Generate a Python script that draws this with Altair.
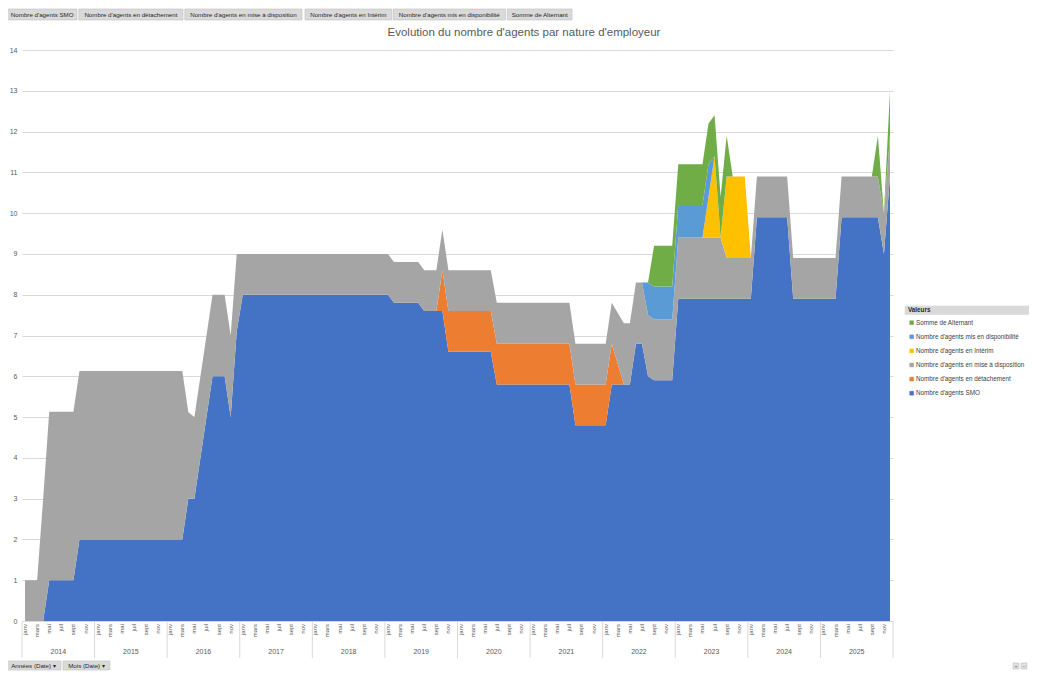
import altair as alt
import pandas as pd

FONT = "Liberation Sans"
TXT = "#595959"

# ---------------- data ----------------
months_fr = ["janv", "févr", "mars", "avr", "mai", "juin", "juil", "août", "sept", "oct", "nov", "déc"]
years = [2014, 2015, 2016, 2017, 2018, 2019, 2020, 2021, 2022, 2023, 2024, 2025]

series_names = [
    "Nombre d'agents SMO",
    "Nombre d'agents en détachement",
    "Nombre d'agents en mise à disposition",
    "Nombre d'agents en Intérim",
    "Nombre d'agents mis en disponibilité",
    "Somme de Alternant",
]
series_colors = ["#4472C4", "#ED7D31", "#A5A5A5", "#FFC000", "#5B9BD5", "#70AD47"]

smo = [
    0, 0, 0, 0, 1, 1, 1, 1, 1, 2, 2, 2,                      # 2014
    2, 2, 2, 2, 2, 2, 2, 2, 2, 2, 2, 2,                      # 2015
    2, 2, 2, 3, 3, 4, 5, 6, 6, 6, 5, 7.1,                    # 2016
    8, 8, 8, 8, 8, 8, 8, 8, 8, 8, 8, 8,                      # 2017
    8, 8, 8, 8, 8, 8, 8, 8, 8, 8, 8, 8,                      # 2018
    8, 7.8, 7.8, 7.8, 7.8, 7.8, 7.6, 7.6, 7.6, 7.6, 6.6, 6.6,  # 2019
    6.6, 6.6, 6.6, 6.6, 6.6, 6.6, 5.8, 5.8, 5.8, 5.8, 5.8, 5.8,  # 2020
    5.8, 5.8, 5.8, 5.8, 5.8, 5.8, 5.8, 4.8, 4.8, 4.8, 4.8, 4.8,  # 2021
    4.8, 5.8, 5.8, 5.8, 5.8, 6.8, 6.8, 6.0, 5.9, 5.9, 5.9, 5.9,  # 2022
    7.9, 7.9, 7.9, 7.9, 7.9, 7.9, 7.9, 7.9, 7.9, 7.9, 7.9, 7.9,  # 2023
    7.9, 9.9, 9.9, 9.9, 9.9, 9.9, 9.9, 7.9, 7.9, 7.9, 7.9, 7.9,  # 2024
    7.9, 7.9, 7.9, 9.9, 9.9, 9.9, 9.9, 9.9, 9.9, 9.9, 9.0, 10.9,  # 2025
]
detachement = [
    0, 0, 0, 0, 0, 0, 0, 0, 0, 0, 0, 0,
    0, 0, 0, 0, 0, 0, 0, 0, 0, 0, 0, 0,
    0, 0, 0, 0, 0, 0, 0, 0, 0, 0, 0, 0,
    0, 0, 0, 0, 0, 0, 0, 0, 0, 0, 0, 0,
    0, 0, 0, 0, 0, 0, 0, 0, 0, 0, 0, 0,
    0, 0, 0, 0, 0, 0, 0, 0, 0, 1, 1, 1,                      # 2019
    1, 1, 1, 1, 1, 1, 1, 1, 1, 1, 1, 1,                      # 2020
    1, 1, 1, 1, 1, 1, 1, 1, 1, 1, 1, 1,                      # 2021
    1, 1, 0.5, 0, 0, 0, 0, 0, 0, 0, 0, 0,                    # 2022
    0, 0, 0, 0, 0, 0, 0, 0, 0, 0, 0, 0,
    0, 0, 0, 0, 0, 0, 0, 0, 0, 0, 0, 0,
    0, 0, 0, 0, 0, 0, 0, 0, 0, 0, 0, 0,
]
mise_dispo = [
    1, 1, 1, 3, 4.13, 4.13, 4.13, 4.13, 4.13, 4.13, 4.13, 4.13,  # 2014
    4.13, 4.13, 4.13, 4.13, 4.13, 4.13, 4.13, 4.13, 4.13, 4.13, 4.13, 4.13,  # 2015
    4.13, 4.13, 4.13, 2.12, 2, 2, 2, 2, 2, 2, 2, 1.9,        # 2016
    1, 1, 1, 1, 1, 1, 1, 1, 1, 1, 1, 1,                      # 2017
    1, 1, 1, 1, 1, 1, 1, 1, 1, 1, 1, 1,                      # 2018
    1, 1, 1, 1, 1, 1, 1, 1, 1, 1, 1, 1,                      # 2019
    1, 1, 1, 1, 1, 1, 1, 1, 1, 1, 1, 1,                      # 2020
    1, 1, 1, 1, 1, 1, 1, 1, 1, 1, 1, 1,                      # 2021
    1, 1, 1.25, 1.5, 1.5, 1.5, 1.5, 1.5, 1.5, 1.5, 1.5, 1.5,  # 2022
    1.5, 1.5, 1.5, 1.5, 1.5, 1.5, 1.5, 1.5, 1, 1, 1, 1,      # 2023
    1, 1, 1, 1, 1, 1, 1, 1, 1, 1, 1, 1,                      # 2024
    1, 1, 1, 1, 1, 1, 1, 1, 1, 1, 1, 1,                      # 2025
]
interim = [0] * 108 + [0, 0, 0, 0, 0, 1, 2, 0, 2, 2, 2, 2] + [0] * 24
mis_dispo = ([0] * 96 + [0, 0, 0, 0, 0, 0, 0, 0.8, 0.8, 0.8, 0.8, 0.8]
             + [0.8, 0.8, 0.8, 0.8, 0.8, 0.8, 0, 0, 0, 0, 0, 0] + [0] * 24)
alternant = ([0] * 96 + [0, 0, 0, 0, 0, 0, 0, 0, 1, 1, 1, 1]
             + [1, 1, 1, 1, 1, 1, 1, 1, 1, 0, 0, 0] + [0] * 12
             + [0, 0, 0, 0, 0, 0, 0, 0, 0, 1, 0, 1.1])

title_text = "Evolution du nombre d'agents par nature d'employeur"
legend_title = "Valeurs"
field_buttons = series_names
axis_buttons = ["Années (Date) ▾", "Mois (Date) ▾"]

# ---------------- tables ----------------
all_series = [smo, detachement, mise_dispo, interim, mis_dispo, alternant]
rows = []
for k, (name, vals) in enumerate(zip(series_names, all_series)):
    for i, v in enumerate(vals):
        rows.append({"idx": i, "val": v, "series": name, "ord": k})
df = pd.DataFrame(rows)

mdf = pd.DataFrame({"idx": list(range(0, 144, 2)),
                    "lab": [months_fr[i % 12] for i in range(0, 144, 2)]})
ydf = pd.DataFrame({"c": [12 * k + 5.5 for k in range(len(years))],
                    "lab": [str(y) for y in years]})
bdf = pd.DataFrame({"b": [12 * k - 0.5 for k in range(len(years) + 1)]})

LEFT = 14
W, H = 871, 571
BOTTOM = 50
xscale = alt.Scale(domain=[-0.5, 143.5], nice=False, zero=False)
color_scale = alt.Scale(domain=series_names, range=series_colors)

area = alt.Chart(df).mark_area(interpolate="linear").encode(
    x=alt.X("idx:Q", scale=xscale, axis=None),
    y=alt.Y("val:Q", stack="zero",
            scale=alt.Scale(domain=[0, 14], nice=False, zero=True),
            axis=alt.Axis(values=list(range(15)), grid=True, gridColor="#D9D9D9",
                          gridWidth=1, domain=False, ticks=False, title=None,
                          labelFontSize=7, labelColor=TXT, labelFont=FONT,
                          labelPadding=5)),
    color=alt.Color("series:N", scale=color_scale, legend=None),
    order=alt.Order("ord:Q", sort="ascending"),
)

seps = alt.Chart(bdf).mark_rule(color="#D9D9D9", strokeWidth=1).encode(
    x=alt.X("b:Q", scale=xscale), y=alt.value(H), y2=alt.value(H + 37))

mtext = alt.Chart(mdf).mark_text(angle=270, align="right", baseline="middle",
                                 fontSize=6, color=TXT, font=FONT).encode(
    x=alt.X("idx:Q", scale=xscale), y=alt.value(H + 3), text="lab:N")

ytext = alt.Chart(ydf).mark_text(align="center", baseline="middle",
                                 fontSize=7, color=TXT, font=FONT).encode(
    x=alt.X("c:Q", scale=xscale), y=alt.value(H + 31), text="lab:N")

one = alt.Data(values=[{"a": 1}])


def box(x1, x2, y1, y2, fill, stroke="#BFBFBF"):
    return alt.Chart(one).mark_rect(fill=fill, stroke=stroke, strokeWidth=0.6).encode(
        x=alt.value(x1), x2=alt.value(x2), y=alt.value(y1), y2=alt.value(y2))


def label(txt, x, y, size, color="#262626", align="left", weight="normal"):
    return alt.Chart(one).mark_text(text=txt, fontSize=size, color=color, align=align,
                                    baseline="middle", font=FONT, fontWeight=weight).encode(
        x=alt.value(x), y=alt.value(y))


overlays = []
# title
overlays.append(label(title_text, 502, -17, 11.5, color=TXT, align="center"))

# pivot field buttons (top)
btn_px = [(7.4, 77), (78.8, 183), (184.8, 302), (305, 391.5), (393, 505.6), (507.4, 572)]
for (x1, x2), t in zip(btn_px, field_buttons):
    a, b = x1 - 8 - LEFT, x2 - 8 - LEFT
    overlays.append(box(a, b, -41, -30, "#D9D9D9"))
    overlays.append(label(t, (a + b) / 2, -35.5, 6.2, align="center"))

# axis field buttons (bottom)
abtn_px = [(6, 61), (63, 110)]
for (x1, x2), t in zip(abtn_px, axis_buttons):
    a, b = x1 - 8 - LEFT, x2 - 8 - LEFT
    overlays.append(box(a, b, H + 40, H + 49, "#D9D9D9"))
    overlays.append(label(t, (a + b) / 2, H + 44.5, 6.2, align="center"))

# zoom buttons bottom right
RX = W + 136
overlays.append(box(RX - 16, RX - 10, H + 42, H + 48, "#E0E0E0"))
overlays.append(box(RX - 8, RX - 2, H + 42, H + 48, "#E0E0E0"))
overlays.append(label("+", RX - 13, H + 45, 6, color="#808080", align="center"))
overlays.append(label("–", RX - 5, H + 45, 6, color="#808080", align="center"))

# legend
lx = 905 - 8 - LEFT
overlays.append(box(lx, RX, 256, 264.5, "#D9D9D9", stroke="#D9D9D9"))
overlays.append(label(legend_title, lx + 3, 260.3, 6.3, weight="bold"))
leg_y0, leg_dy = 272.7, 14.1
for r, k in enumerate(reversed(range(len(series_names)))):
    yy = leg_y0 + r * leg_dy
    overlays.append(box(lx + 4.8, lx + 8.6, yy - 1.9, yy + 1.9, series_colors[k], stroke=series_colors[k]))
    overlays.append(label(series_names[k], lx + 11, yy, 6.3, color="#404040"))

chart = alt.layer(area, seps, mtext, ytext, *overlays).properties(
    width=W, height=H,
    autosize=alt.AutoSizeParams(type="none"),
    padding={"left": LEFT, "top": 42, "right": 136, "bottom": BOTTOM},
    background="white",
).configure_view(stroke=None)

chart.save("out.html", embed_options={"renderer": "svg", "actions": False})
